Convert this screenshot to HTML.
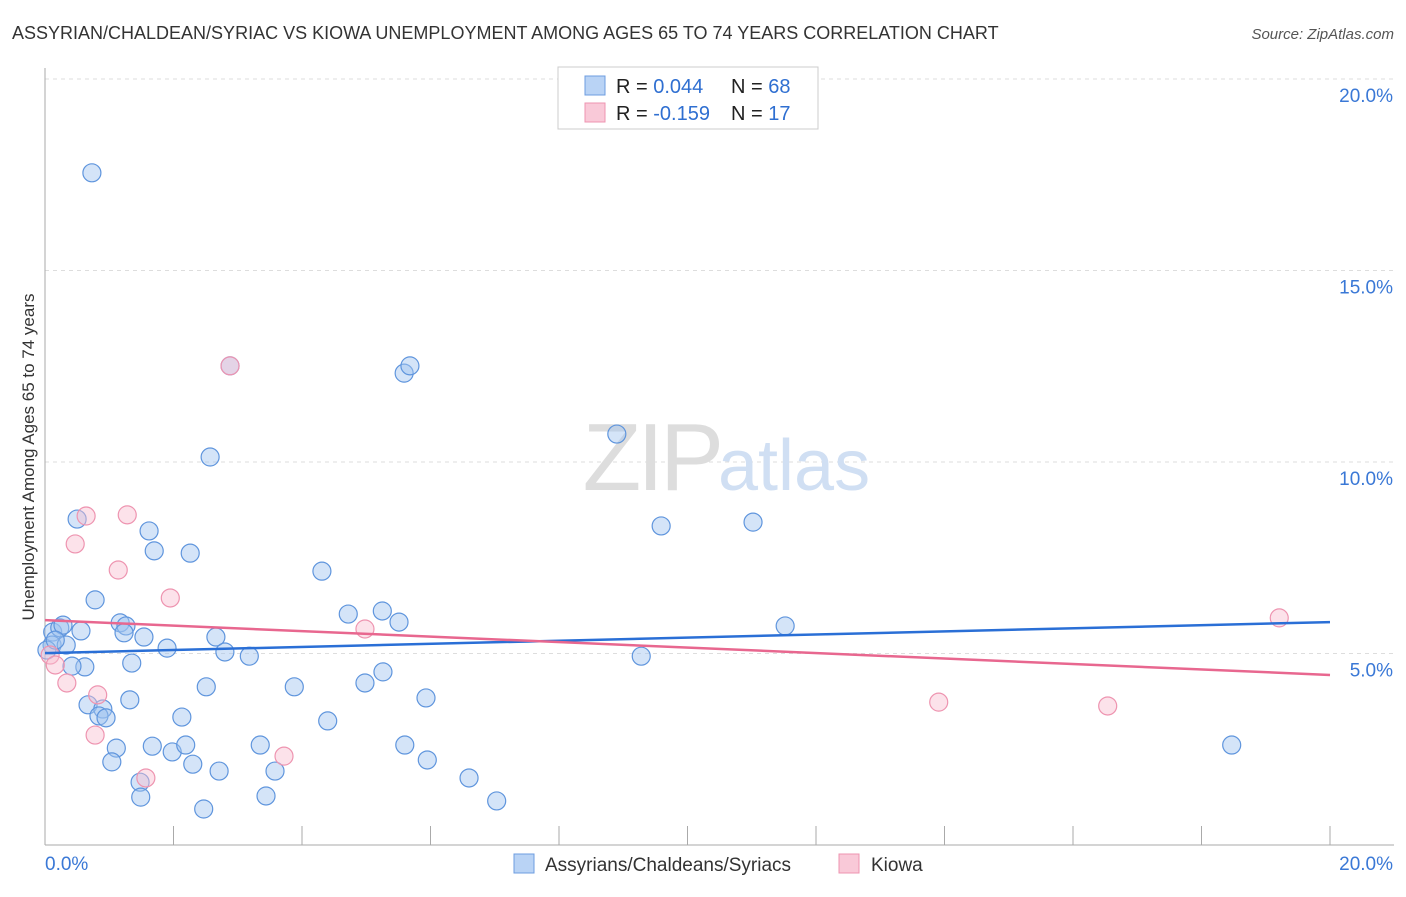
<!DOCTYPE html>
<html><head><meta charset="utf-8"><style>
body{margin:0;background:#fff;font-family:"Liberation Sans",sans-serif;}
svg text{font-family:"Liberation Sans",sans-serif;}
</style></head><body>
<svg id="chart" width="1406" height="892" xmlns="http://www.w3.org/2000/svg">
<text x="12" y="39" font-size="18" fill="#333">ASSYRIAN/CHALDEAN/SYRIAC VS KIOWA UNEMPLOYMENT AMONG AGES 65 TO 74 YEARS CORRELATION CHART</text>
<text x="1394" y="39" font-size="15" fill="#555" text-anchor="end" font-style="italic">Source: ZipAtlas.com</text>
<text transform="translate(34,457) rotate(-90)" font-size="17" fill="#333" text-anchor="middle">Unemployment Among Ages 65 to 74 years</text>
<g id="grid"></g>
<g id="ticks"></g>
<text x="720" y="490" font-size="96" text-anchor="end" fill="#ddd" font-family="Liberation Serif" letter-spacing="-4">ZIP</text>
<text x="718" y="490" font-size="72" fill="#d0dff3">atlas</text>
<g id="pts"></g>
<g id="lines"></g>
<g>
<rect x="558" y="67" width="260" height="62" fill="#fff" stroke="#ccc"/>
<rect x="585" y="76" width="20" height="19" fill="#b9d3f5" stroke="#6d9de0"/>
<rect x="585" y="103" width="20" height="19" fill="#f9c9d8" stroke="#ee94b0"/>
<text x="616" y="93" font-size="20" fill="#222">R = <tspan fill="#2f6fd1">0.044</tspan><tspan x="731">N = </tspan><tspan fill="#2f6fd1">68</tspan></text>
<text x="616" y="120" font-size="20" fill="#222">R = <tspan fill="#2f6fd1">-0.159</tspan><tspan x="731">N = </tspan><tspan fill="#2f6fd1"> 17</tspan></text>
</g>
<g>
<rect x="514" y="854" width="20" height="19" fill="#b9d3f5" stroke="#6d9de0"/>
<text x="545" y="871" font-size="19" fill="#333">Assyrians/Chaldeans/Syriacs</text>
<rect x="839" y="854" width="20" height="19" fill="#f9c9d8" stroke="#ee94b0"/>
<text x="871" y="871" font-size="19" fill="#333">Kiowa</text>
</g>
</svg>
<script>
const yTicks=[5,10,15,20];
const yTickLabels=["5.0%","10.0%","15.0%","20.0%"];
const xTickLabels=["0.0%","20.0%"];
const blueX=[0.73,2.57,2.88,5.59,5.68,8.90,9.59,11.02,0.50,1.62,1.70,2.26,4.31,0.78,4.72,5.25,5.51,11.52,0.12,0.23,0.28,0.56,1.17,1.26,1.23,1.54,2.66,0.11,0.33,1.90,2.80,3.18,9.28,1.35,0.62,0.42,5.26,2.51,3.88,4.98,1.32,5.93,0.67,0.90,0.84,0.95,2.13,4.40,1.11,1.67,1.98,2.19,3.35,5.60,18.47,1.04,2.30,2.71,3.58,5.95,6.60,1.48,1.49,3.44,7.03,2.47,0.03,0.16];
const blueY=[17.55,10.13,12.51,12.32,12.51,10.73,8.33,8.43,8.51,8.20,7.68,7.62,7.15,6.40,6.03,6.11,5.82,5.72,5.56,5.67,5.74,5.59,5.80,5.72,5.54,5.43,5.43,5.22,5.22,5.14,5.04,4.93,4.93,4.75,4.65,4.67,4.52,4.13,4.13,4.23,3.79,3.84,3.66,3.55,3.37,3.32,3.34,3.24,2.53,2.58,2.43,2.61,2.61,2.61,2.61,2.17,2.11,1.93,1.93,2.22,1.75,1.64,1.25,1.28,1.15,0.94,5.09,5.35];
const pinkX=[2.88,0.64,1.28,0.47,1.14,1.95,4.98,0.08,0.16,0.34,0.82,0.78,3.72,1.57,13.91,16.54,19.21];
const pinkY=[12.51,8.59,8.62,7.86,7.18,6.45,5.64,4.96,4.70,4.23,3.92,2.87,2.32,1.75,3.73,3.63,5.93];
const blueTrend=[5.01,0.0405];
const pinkTrend=[5.87,-0.0715];
const NS="http://www.w3.org/2000/svg";
const X=v=>45+v*64.25, Y=v=>845-v*38.3;
function mk(tag,attrs,parent){const e=document.createElementNS(NS,tag);for(const k in attrs)e.setAttribute(k,attrs[k]);document.getElementById(parent).appendChild(e);return e;}
const topG=mk('line',{x1:45,x2:1394,y1:Y(20),y2:Y(20),stroke:'#ddd','stroke-dasharray':'4,4'},'grid');


yTicks.forEach((t,i)=>{
 const g=mk('line',{x1:45,x2:1394,y1:Y(t),y2:Y(t),stroke:'#ddd','stroke-dasharray':'4,4'},'grid');
 
 
 const l=mk('text',{x:1393,y:Y(t)+23,'font-size':19,fill:'#3a78d6','text-anchor':'end'},'ticks');
 l.textContent=yTickLabels[i];
 
 
});
const ax=mk('line',{x1:45,x2:45,y1:68,y2:845,stroke:'#aaa'},'ticks');


const bx=mk('line',{x1:45,x2:1394,y1:845,y2:845,stroke:'#aaa'},'ticks');


for(let i=1;i<=10;i++){
 const t=mk('line',{x1:X(i*2),x2:X(i*2),y1:826,y2:845,stroke:'#aaa'},'ticks');
 
 
}
[[0,'start',45],[20,'end',1393]].forEach((d,i)=>{
 const l=mk('text',{x:d[2],y:870,'font-size':19,fill:'#3a78d6','text-anchor':d[1]},'ticks');
 l.textContent=xTickLabels[i];
 
 
});
blueX.forEach((v,i)=>{
 const c=mk('circle',{cx:X(v),cy:Y(blueY[i]),r:9,fill:'rgba(160,195,240,0.45)',stroke:'#5f95dd','stroke-width':1.2},'pts');
 
 
});
pinkX.forEach((v,i)=>{
 const c=mk('circle',{cx:X(v),cy:Y(pinkY[i]),r:9,fill:'rgba(248,190,208,0.45)',stroke:'#ee94b0','stroke-width':1.2},'pts');
 
 
});
const bl=mk('line',{x1:X(0),y1:Y(blueTrend[0]),x2:X(20),y2:Y(blueTrend[0]+blueTrend[1]*20),stroke:'#2a6fd6','stroke-width':2.5},'lines');


const pl=mk('line',{x1:X(0),y1:Y(pinkTrend[0]),x2:X(20),y2:Y(pinkTrend[0]+pinkTrend[1]*20),stroke:'#e8678f','stroke-width':2.5},'lines');


</script>
</body></html>
